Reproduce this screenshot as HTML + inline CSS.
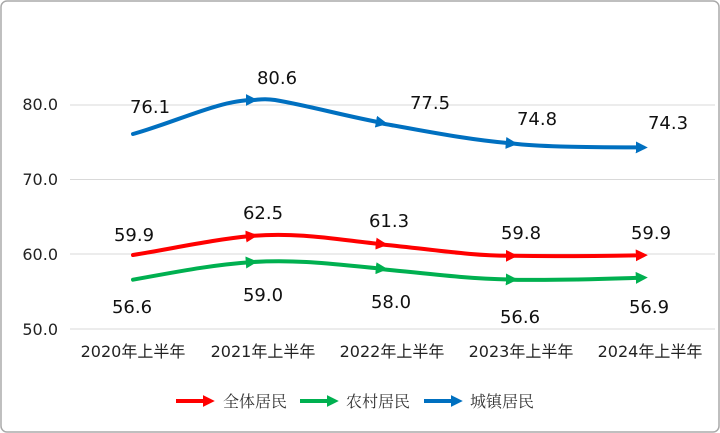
<!DOCTYPE html>
<html><head><meta charset="utf-8"><style>
html,body{margin:0;padding:0;background:#fff}
svg{display:block}
</style></head><body>
<svg width="720" height="433" viewBox="0 0 720 433" xmlns="http://www.w3.org/2000/svg">
<defs>
<marker id="ar" viewBox="0 0 10 10" refX="6" refY="5" markerWidth="3" markerHeight="3" orient="auto"><path d="M0,0L10,5L0,10z" fill="#f00"/></marker>
<marker id="ag" viewBox="0 0 10 10" refX="6" refY="5" markerWidth="3" markerHeight="3" orient="auto"><path d="M0,0L10,5L0,10z" fill="#00b050"/></marker>
<marker id="ab" viewBox="0 0 10 10" refX="6" refY="5" markerWidth="3" markerHeight="3" orient="auto"><path d="M0,0L10,5L0,10z" fill="#0070c0"/></marker>
</defs>
<rect x="1" y="1" width="718" height="431" rx="6" fill="#fff" stroke="#aaa" stroke-width="1.5"/>
<g stroke="#d9d9d9" stroke-width="1">
<line x1="70" y1="105" x2="715" y2="105"/><line x1="70" y1="179.5" x2="715" y2="179.5"/>
<line x1="70" y1="254" x2="715" y2="254"/><line x1="70" y1="329" x2="715" y2="329"/>
</g>
<g font-family="DejaVu Sans, Liberation Sans, sans-serif" font-size="16" fill="#222" text-anchor="end">
<text x="58" y="110">80.0</text><text x="58" y="185">70.0</text><text x="58" y="260">60.0</text><text x="58" y="335">50.0</text>
</g>
<g font-family="DejaVu Sans, 'Noto Sans CJK SC', sans-serif" font-size="16" fill="#222" text-anchor="middle">
<text x="133" y="357">2020年上半年</text><text x="263" y="357">2021年上半年</text><text x="392" y="357">2022年上半年</text><text x="521" y="357">2023年上半年</text><text x="650" y="357">2024年上半年</text>
</g>
<g fill="none" stroke-width="4" stroke-linecap="round">
<path d="M133,134 C176,122 220,100 253,100" stroke="#0070c0" marker-end="url(#ab)"/>
<path d="M253,100 C258,100 263,98 275,100 C310,106 345,116 383,123" stroke="#0070c0" marker-end="url(#ab)"/>
<path d="M383,123.6 C430,132 470,140 513,143.5" stroke="#0070c0" marker-end="url(#ab)"/>
<path d="M513,143.5 C540,147 590,147 643,147.5" stroke="#0070c0" marker-end="url(#ab)"/>
<path d="M133,255 C176,248 210,240 253,235.8" stroke="#f00" marker-end="url(#ar)"/>
<path d="M253,235.8 C300,232 340,240 383,244.3" stroke="#f00" marker-end="url(#ar)"/>
<path d="M383,244.6 C430,249 470,256 513,255.8" stroke="#f00" marker-end="url(#ar)"/>
<path d="M513,255.8 C560,256.5 600,256 643,255.2" stroke="#f00" marker-end="url(#ar)"/>
<path d="M133,279.7 C176,272 210,265 253,262" stroke="#00b050" marker-end="url(#ag)"/>
<path d="M253,262 C300,259 340,265 383,268.8" stroke="#00b050" marker-end="url(#ag)"/>
<path d="M383,269.2 C430,274 470,279 513,279.5" stroke="#00b050" marker-end="url(#ag)"/>
<path d="M513,279.7 C560,280.5 600,279 643,277.7" stroke="#00b050" marker-end="url(#ag)"/>
</g>
<g font-family="DejaVu Sans, Liberation Sans, sans-serif" font-size="18" fill="#111" text-anchor="middle">
<text x="150" y="113">76.1</text><text x="277" y="84">80.6</text><text x="430" y="109">77.5</text><text x="537" y="125">74.8</text><text x="668" y="129">74.3</text>
<text x="134" y="241">59.9</text><text x="263" y="219">62.5</text><text x="389" y="227">61.3</text><text x="521" y="239">59.8</text><text x="651" y="239">59.9</text>
<text x="132" y="313">56.6</text><text x="263" y="301">59.0</text><text x="391" y="308">58.0</text><text x="520" y="323">56.6</text><text x="649" y="313">56.9</text>
</g>
<g stroke-width="4" fill="none">
<line x1="176" y1="401" x2="210" y2="401" stroke="#f00" marker-end="url(#ar)"/>
<line x1="300" y1="401" x2="334" y2="401" stroke="#00b050" marker-end="url(#ag)"/>
<line x1="424" y1="401" x2="458" y2="401" stroke="#0070c0" marker-end="url(#ab)"/>
</g>
<g font-family="'Noto Serif CJK SC', serif" font-size="16" fill="#333">
<text x="223" y="407">全体居民</text><text x="346" y="407">农村居民</text><text x="470" y="407">城镇居民</text>
</g>
</svg>
</body></html>
